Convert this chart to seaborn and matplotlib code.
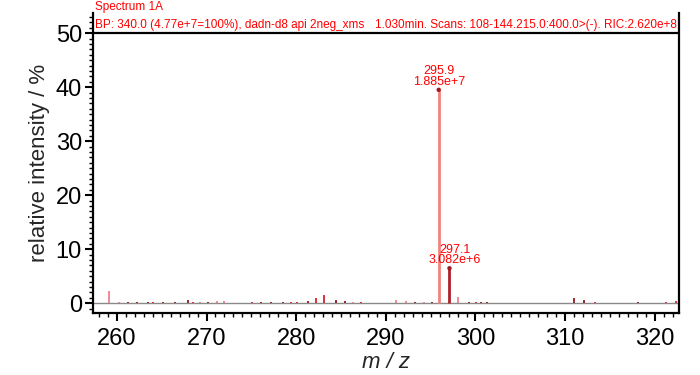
import matplotlib
matplotlib.use("Agg")
import matplotlib.pyplot as plt
from matplotlib.ticker import MultipleLocator
import pandas as pd
import seaborn as sns

# Stick spectrum: m/z, relative intensity (%) and tone of each stick
MZ = [259.1, 260.2, 261.2, 262.2, 263.5, 264.0, 265.1, 266.5, 267.9, 268.5,
      269.3, 270.2, 271.2, 272.0, 274.2, 275.1, 276.1, 277.2, 278.5, 279.4,
      280.1, 281.3, 282.2, 283.1, 284.4, 285.4, 286.3, 287.2, 288.1, 289.3,
      291.1, 292.2, 293.2, 294.3, 295.1, 295.9, 297.1, 298.1, 299.3, 300.1,
      300.6, 301.3, 302.1, 305.1, 305.9, 308.1, 309.2, 311.0, 312.1, 313.3,
      314.4, 315.2, 315.9, 318.1, 320.0, 321.2, 322.4]
INTENSITY = [2.2, 0.3, 0.25, 0.15, 0.15, 0.2, 0.15, 0.15, 0.5, 0.2,
             0.2, 0.3, 0.35, 0.45, 0.1, 0.3, 0.3, 0.15, 0.15, 0.2,
             0.3, 0.45, 0.9, 1.5, 0.5, 0.4, 0.3, 0.3, 0.1, 0.1,
             0.6, 0.4, 0.2, 0.3, 0.2, 39.5, 6.46, 1.1, 0.3, 0.2,
             0.2, 0.2, 0.1, 0.05, 0.05, 0.1, 0.1, 0.9, 0.5, 0.3,
             0.1, 0.1, 0.1, 0.15, 0.1, 0.2, 0.4]
TONE = ["p", "p", "d", "d", "d", "r", "d", "d", "d", "r",
        "p", "d", "p", "p", "d", "r", "d", "d", "d", "r",
        "r", "d", "r", "r", "d", "d", "p", "r", "d", "d",
        "p", "p", "d", "p", "d", "s", "b", "p", "d", "r",
        "d", "d", "r", "d", "d", "d", "d", "d", "d", "r",
        "d", "d", "d", "d", "d", "r", "r"]
TONE_COLORS = {"p": "#f07f90", "d": "#8e1a22", "r": "#d8202c",
               "s": "#f2837d", "b": "#b0202a"}

# Labelled peaks
PEAK_MZ = [295.9, 297.1]
PEAK_INT = [39.5, 6.46]
PEAK_ABS = ["1.885e+7", "3.082e+6"]
PEAK_SHIFT = [0, 4]

HEADER_LEFT = ["Spectrum 1A", "BP: 340.0 (4.77e+7=100%), dadn-d8 api 2neg_xms"]
HEADER_RIGHT = "1.030min. Scans: 108-144.215.0:400.0>(-). RIC:2.620e+8"

sns.set_theme(style="ticks")
plt.rcParams["font.family"] = ["Liberation Sans", "DejaVu Sans"]

fig, ax = plt.subplots(figsize=(7, 3.75), dpi=100)
fig.subplots_adjust(left=0.133, right=0.970, bottom=0.165, top=0.965)

df = pd.DataFrame({"mz": MZ, "intensity": INTENSITY, "tone": TONE})

# baseline and the 50 % frame line
ax.axhline(0, color="#8a8a8a", lw=1.0, zorder=1)
ax.axhline(50, color="black", lw=1.6, zorder=1)

for tone, grp in df.groupby("tone"):
    lw = 2.0 if tone in ("s", "b") else 1.3
    ax.vlines(grp["mz"], 0, grp["intensity"], color=TONE_COLORS[tone], lw=lw, zorder=2)

sns.scatterplot(x=PEAK_MZ, y=PEAK_INT, ax=ax, color="#a01820", s=10,
                edgecolor="none", legend=False, zorder=3)

for mz, inten, absval, dx in zip(PEAK_MZ, PEAK_INT, PEAK_ABS, PEAK_SHIFT):
    ax.annotate(f"{mz:.1f}\n{absval}", (mz, inten), xytext=(dx, 1.5),
                textcoords="offset points", ha="center", va="bottom",
                color="red", fontsize=9, linespacing=0.85)

# header texts
ax.text(0.004, 1.0, HEADER_LEFT[0], transform=ax.transAxes, ha="left", va="bottom",
        color="red", fontsize=8.5, clip_on=False)
ax.text(0.004, 50.3, HEADER_LEFT[1], transform=ax.get_yaxis_transform(), ha="left",
        va="bottom", color="red", fontsize=8.5)
ax.text(0.996, 50.3, HEADER_RIGHT, transform=ax.get_yaxis_transform(), ha="right",
        va="bottom", color="red", fontsize=8.5)

ax.set_xlim(257.35, 322.7)
ax.set_ylim(-1.85, 53.7)
ax.xaxis.set_major_locator(MultipleLocator(10))
ax.xaxis.set_minor_locator(MultipleLocator(1))
ax.yaxis.set_major_locator(MultipleLocator(10))
ax.yaxis.set_minor_locator(MultipleLocator(1))
ax.set_yticks([0, 10, 20, 30, 40, 50])

ax.spines["top"].set_visible(False)
for side in ("left", "right", "bottom"):
    ax.spines[side].set_color("black")
    ax.spines[side].set_linewidth(1.6)

ax.tick_params(which="major", direction="out", length=6, width=1.5,
               labelsize=17, pad=2, colors="black")
ax.tick_params(which="minor", direction="out", length=3, width=1.0, colors="black")
ax.tick_params(axis="x", which="major", pad=5)
ax.tick_params(axis="both", which="both", top=False, right=False)

ax.set_xlabel("m / z", fontsize=16, style="italic", labelpad=1)
ax.set_ylabel("relative intensity / %", fontsize=16, labelpad=4)

fig.savefig("out.png", dpi=100)
